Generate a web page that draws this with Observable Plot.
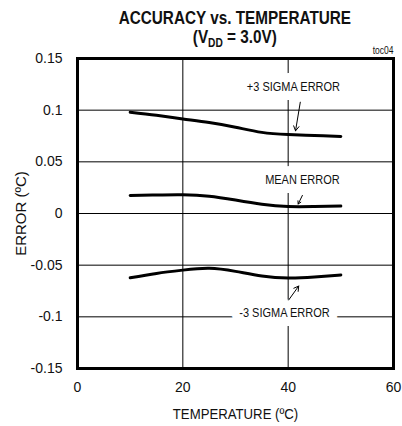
<!DOCTYPE html>
<html><head><meta charset="utf-8">
<script src="https://cdn.jsdelivr.net/npm/d3@7"></script>
<script src="https://cdn.jsdelivr.net/npm/@observablehq/plot@0.6"></script>
<style>
body{margin:0;background:#fff;}
#wrap{position:relative;width:402px;height:426px;font-family:"Liberation Sans",Arial,sans-serif;color:#111;}
.t{position:absolute;left:77px;width:316px;text-align:center;font-weight:bold;font-size:18px;line-height:20px;transform:scaleX(0.85);transform-origin:157px 50%;z-index:2;}
.t sub{font-size:12px;vertical-align:-4px;line-height:0;}
#toc{position:absolute;right:9px;top:45px;font-size:10px;transform:scaleX(0.85);transform-origin:right center;z-index:2;}
svg{position:absolute;left:0;top:0;}
</style></head><body>
<div id="wrap">
<div class="t" style="top:8px">ACCURACY vs. TEMPERATURE</div>
<div class="t" style="top:27px">(V<sub>DD</sub> = 3.0V)</div>
<div id="toc">toc04</div>
</div>
<script>
const temps = [10, 15, 20, 25, 30, 35, 40, 45, 50];
const plus3Sigma = [0.098, 0.095, 0.0915, 0.088, 0.0835, 0.0785, 0.0765, 0.0755, 0.0745];
const meanError = [0.0175, 0.018, 0.0182, 0.0168, 0.013, 0.009, 0.0068, 0.0068, 0.0072];
const minus3Sigma = [-0.0622, -0.058, -0.0548, -0.053, -0.056, -0.0605, -0.0625, -0.0615, -0.0595];

const xTicks = [0, 20, 40, 60];
const yTicks = [-0.15, -0.1, -0.05, 0, 0.05, 0.1, 0.15];
const yTickLabels = ["-0.15", "-0.1", "-0.05", "0", "0.05", "0.1", "0.15"];

const labelNames = ["+3 SIGMA ERROR", "MEAN ERROR", "-3 SIGMA ERROR"];
const labelX = [41.0, 42.7, 39.3];
const labelY = [0.122, 0.0327, -0.096];
const arrowX1 = [42.3, 42.7, 40.1];
const arrowY1 = [0.1077, 0.0175, -0.0837];
const arrowX2 = [41.4, 41.9, 42.0];
const arrowY2 = [0.0800, 0.0092, -0.0702];

const seriesNames = ["+3 SIGMA ERROR", "MEAN ERROR", "-3 SIGMA ERROR"];
const seriesValues = [plus3Sigma, meanError, minus3Sigma];
const rows = [];
seriesNames.forEach((s, i) => temps.forEach((t, j) => rows.push({series: s, temp: t, err: seriesValues[i][j]})));
const labels = labelNames.map((n, i) => ({name: n, x: labelX[i], y: labelY[i]}));
const arrows = labelNames.map((n, i) => ({x1: arrowX1[i], y1: arrowY1[i], x2: arrowX2[i], y2: arrowY2[i]}));

const fmtY = d => yTickLabels[yTicks.findIndex(v => Math.abs(v - d) < 1e-9)];
const chart = Plot.plot({
  width: 402, height: 426,
  marginTop: 58, marginBottom: 58, marginLeft: 77, marginRight: 9,
  style: {fontFamily: "'Liberation Sans',Arial,sans-serif", fontSize: "14px", color: "#111", background: "white"},
  x: {domain: [0, 60], ticks: xTicks, tickSize: 0, tickPadding: 14, label: null},
  y: {domain: [-0.15, 0.15], ticks: yTicks, tickSize: 0, tickPadding: 15, label: null, tickFormat: fmtY},
  marks: [
    Plot.gridX(xTicks.slice(1, -1), {stroke: "black", strokeOpacity: 1, strokeWidth: 1}),
    Plot.gridY(yTicks.slice(1, -1), {stroke: "black", strokeOpacity: 1, strokeWidth: 1}),
    Plot.text(labels, {x: "x", y: "y", text: "name", fill: "#111", stroke: "white", strokeWidth: 18, fontSize: 12.5}),
    Plot.line(rows, {x: "temp", y: "err", z: "series", stroke: "black", strokeWidth: 3, curve: "natural"}),
    Plot.arrow(arrows, {x1: "x1", y1: "y1", x2: "x2", y2: "y2", stroke: "black", strokeWidth: 1, headLength: 8, bend: 0}),
    Plot.frame({stroke: "black", strokeWidth: 3}),
    Plot.axisX({tickSize: 0, tickPadding: 14, label: null}),
    Plot.axisY({tickSize: 0, tickPadding: 15, label: null, tickFormat: fmtY}),
    Plot.text(["TEMPERATURE (ºC)"], {frameAnchor: "bottom", textAnchor: "middle", dy: 50, fontSize: 15}),
    Plot.text(["ERROR (ºC)"], {frameAnchor: "left", textAnchor: "middle", dx: -56, rotate: -90, fontSize: 15})
  ]
});
// condense annotation and axis title text like the narrow face of the original
const narrow = new Map([["TEMPERATURE (ºC)", 0.88], ["+3 SIGMA ERROR", 0.88], ["MEAN ERROR", 0.88], ["-3 SIGMA ERROR", 0.88]]);
chart.querySelectorAll("text").forEach(t => {
  const k = narrow.get(t.textContent);
  if (k) t.setAttribute("transform", (t.getAttribute("transform") || "") + ` scale(${k},1)`);
});
document.getElementById("wrap").prepend(chart);
</script>
</body></html>
